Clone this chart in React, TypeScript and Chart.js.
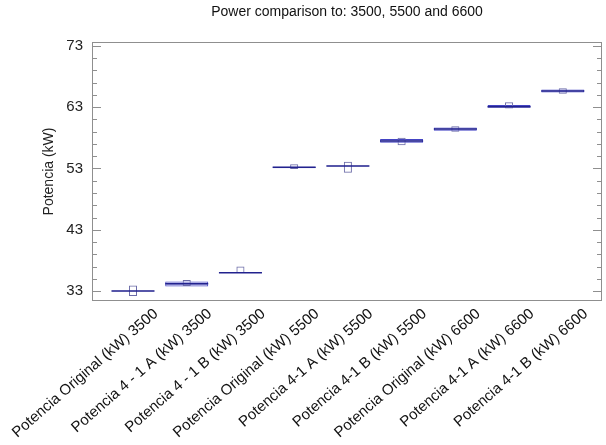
import { useEffect, useRef } from "react";
import { Chart, registerables } from "chart.js";

Chart.register(...registerables);

// Category labels along the x axis
const categories = [
  "Potencia Original (kW) 3500",
  "Potencia 4 - 1 A (kW) 3500",
  "Potencia 4 - 1 B (kW) 3500",
  "Potencia Original (kW) 5500",
  "Potencia 4-1 A (kW) 5500",
  "Potencia 4-1 B (kW) 5500",
  "Potencia Original (kW) 6600",
  "Potencia 4-1 A (kW) 6600",
  "Potencia 4-1 B (kW) 6600",
];

// Box-and-whisker summaries (kW)
const whiskerLow = [32.2, 33.8, 35.95, 52.9, 52.3, 56.8, 59.0, 62.8, 65.2];
const q1 = [32.95, 33.75, 35.95, 53.05, 53.35, 57.2, 59.15, 62.9, 65.4];
const median = [33.0, 34.2, 36.0, 53.2, 53.4, 57.5, 59.45, 63.1, 65.65];
const q3 = [33.05, 34.55, 36.05, 53.3, 53.45, 57.8, 59.7, 63.35, 65.9];
const whiskerHigh = [33.9, 34.8, 37.0, 53.7, 54.1, 58.0, 59.9, 63.8, 66.1];

// Axis ticks
const yTicks = [33, 43, 53, 63, 73];
const yMinorStep = 2;
const yMin = 31.37;
const yMax = 73.65;
const xMin = -0.763;
const xMax = 8.73;

const FONT = "'Liberation Sans', Arial, sans-serif";

// Plot frame plus inward-pointing tick marks on the left and right edges
const framePlugin = {
  id: "plotFrame",
  afterDraw(chart: any) {
    const { ctx, chartArea: a, scales } = chart;
    const y = scales.y;
    ctx.save();
    ctx.strokeStyle = "#8f8f8f";
    ctx.lineWidth = 1;
    ctx.strokeRect(a.left + 0.5, a.top + 0.5, a.right - a.left - 1, a.bottom - a.top - 1);
    ctx.beginPath();
    let start = yTicks[0];
    while (start - yMinorStep >= y.min) start -= yMinorStep;
    for (let v = start; v <= y.max + 1e-9; v += yMinorStep) {
      const major = yTicks.some((t) => Math.abs(t - v) < 1e-6);
      const len = major ? 9 : 5;
      const py = Math.round(y.getPixelForValue(v)) + 0.5;
      ctx.moveTo(a.left, py);
      ctx.lineTo(a.left + len, py);
      ctx.moveTo(a.right, py);
      ctx.lineTo(a.right - len, py);
    }
    ctx.stroke();
    ctx.restore();
  },
};

export default function App() {
  const ref = useRef<HTMLCanvasElement>(null);

  useEffect(() => {
    if (!ref.current) return;
    const boxData = categories.map((_, i) => ({ x: i, y: [q1[i], q3[i]] }));
    const whiskerData = categories.map((_, i) => ({ x: i, y: [whiskerLow[i], whiskerHigh[i]] }));
    const medianData = categories.map((_, i) => ({ x: i, y: median[i] }));

    const chart = new Chart(ref.current, {
      type: "bar",
      data: {
        datasets: [
          {
            type: "scatter",
            data: medianData,
            pointStyle: "line",
            pointRadius: 21.5,
            pointHoverRadius: 21.5,
            borderColor: "#22228e",
            pointBorderColor: "#22228e",
            pointBorderWidth: 1.5,
            order: 0,
          } as any,
          {
            type: "bar",
            data: whiskerData,
            grouped: false,
            barPercentage: 0.15,
            categoryPercentage: 1,
            backgroundColor: "rgba(0,0,0,0)",
            borderColor: "#6c6ca8",
            borderWidth: 1,
            borderSkipped: false,
            order: 1,
          } as any,
          {
            type: "bar",
            data: boxData,
            grouped: false,
            barPercentage: 0.8,
            categoryPercentage: 1,
            backgroundColor: "#b3b3e4",
            borderColor: "#4444c4",
            borderWidth: 1,
            borderSkipped: false,
            order: 2,
          } as any,
        ],
      },
      options: {
        responsive: false,
        animation: false,
        events: [],
        layout: { autoPadding: false, padding: { top: 0, right: 4, left: 0, bottom: 0 } },
        plugins: {
          legend: { display: false },
          tooltip: { enabled: false },
          title: {
            display: true,
            text: "Power comparison to: 3500, 5500 and 6600",
            fullSize: false,
            color: "#111",
            font: { family: FONT, size: 14, weight: "normal" },
            padding: { top: 4, bottom: 21.2 },
          },
        },
        scales: {
          x: {
            type: "linear",
            min: xMin,
            max: xMax,
            offset: false,
            afterBuildTicks: (s: any) => {
              s.ticks = categories.map((_, i) => ({ value: i }));
            },
            afterFit: (s: any) => {
              s.height = 144;
              s.paddingLeft = 0;
              s.paddingRight = 0;
            },
            grid: { display: false, drawTicks: false, offset: false },
            border: { display: false },
            ticks: {
              autoSkip: false,
              minRotation: 41,
              maxRotation: 41,
              padding: 4,
              labelOffset: 23,
              color: "#111",
              font: { family: FONT, size: 15 },
              callback: (_v: any, i: number) => categories[i],
            },
          },
          y: {
            type: "linear",
            min: yMin,
            max: yMax,
            afterBuildTicks: (s: any) => {
              s.ticks = yTicks.map((v) => ({ value: v }));
            },
            afterFit: (s: any) => {
              s.width = 92;
              s.paddingTop = 0;
              s.paddingBottom = 0;
            },
            grid: { display: false, drawTicks: false },
            border: { display: false },
            ticks: {
              padding: 9,
              color: "#222",
              font: { family: FONT, size: 15 },
            },
            title: {
              display: true,
              text: "Potencia (kW)",
              color: "#222",
              font: { family: FONT, size: 14 },
              padding: { top: 41, bottom: 0 },
            },
          },
        },
      } as any,
      plugins: [framePlugin],
    });
    return () => chart.destroy();
  }, []);

  return (
    <div style={{ position: "absolute", left: 0, top: 0, width: 606, height: 445, background: "#fff" }}>
      <canvas ref={ref} width={606} height={445} style={{ display: "block" }} />
    </div>
  );
}
